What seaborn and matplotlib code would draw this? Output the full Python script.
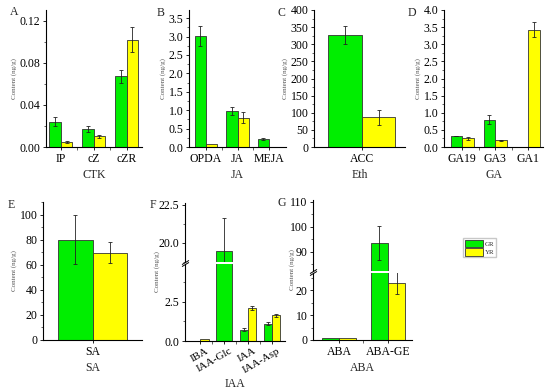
import numpy as np
import pandas as pd
import matplotlib
matplotlib.use('Agg')
import matplotlib.pyplot as plt
from matplotlib.patches import Patch
from matplotlib.transforms import ScaledTranslation
from matplotlib.ticker import MultipleLocator, FormatStrFormatter
import seaborn as sns

nan = np.nan

# hormone contents (ng/g), GR vs YR
ctk_cats = ['IP', 'cZ', 'cZR']
ctk_gr = [0.024, 0.017, 0.067]
ctk_gr_err = [0.004, 0.003, 0.006]
ctk_yr = [0.005, 0.010, 0.102]
ctk_yr_err = [0.001, 0.0015, 0.012]

ja_cats = ['OPDA', 'JA', 'MEJA']
ja_gr = [3.02, 0.97, 0.22]
ja_gr_err = [0.27, 0.11, 0.02]
ja_yr = [0.07, 0.80, nan]
ja_yr_err = [0.0, 0.16, nan]

eth_cats = ['ACC']
eth_gr = [327]
eth_gr_err = [27]
eth_yr = [87]
eth_yr_err = [22]

ga_cats = ['GA19', 'GA3', 'GA1']
ga_gr = [0.32, 0.80, nan]
ga_gr_err = [0.01, 0.13, nan]
ga_yr = [0.25, 0.19, 3.43]
ga_yr_err = [0.04, 0.02, 0.23]

sa_cats = ['SA']
sa_gr = [80]
sa_gr_err = [19.5]
sa_yr = [69.5]
sa_yr_err = [8.5]

iaa_cats = ['IBA', 'IAA-Glc', 'IAA', 'IAA-Asp']
iaa_gr = [nan, 19.45, 0.73, 1.11]
iaa_gr_err = [nan, 2.2, 0.08, 0.08]
iaa_yr = [0.1, nan, 2.08, 1.63]
iaa_yr_err = [0.0, nan, 0.12, 0.12]

aba_cats = ['ABA', 'ABA-GE']
aba_gr = [0.8, 93.5]
aba_gr_err = [0.0, 6.8]
aba_yr = [0.7, 23.0]
aba_yr_err = [0.0, 4.3]

groups = ['GR', 'YR']
pal = {'GR': '#00ee00', 'YR': '#ffff00'}
edge = '#333333'

sns.set_style('ticks')
plt.rcParams['font.family'] = ['Liberation Serif', 'DejaVu Serif']
plt.rcParams['axes.linewidth'] = 0.8
FS = 8.5

W, H = 550, 392
fig = plt.figure(figsize=(W / 100, H / 100), dpi=100)


def px_axes(x0, x1, y0, y1):
    # rectangle given in picture pixels (top-left origin)
    return fig.add_axes([x0 / W, 1 - y1 / H, (x1 - x0) / W, (y1 - y0) / H])


def draw_bars(ax, cats, gr, gr_err, yr, yr_err, wide=None):
    n = len(cats)
    df = pd.DataFrame({'cat': cats * 2, 'group': ['GR'] * n + ['YR'] * n,
                       'val': gr + yr, 'err': gr_err + yr_err})
    sns.barplot(data=df.dropna(subset=['val']), x='cat', y='val', hue='group',
                order=cats, hue_order=groups, palette=pal, width=0.7,
                saturation=1, edgecolor=edge, linewidth=0.6, errorbar=None,
                legend=False, dodge=True, ax=ax)
    errs = {'GR': gr_err, 'YR': yr_err}
    for cont, lev in zip(ax.containers, groups):
        for bar in cont:
            i = int(round(bar.get_x() + bar.get_width() / 2))
            if wide is not None and cats[i] in wide and lev == 'GR':
                bar.set_width(bar.get_width() * 2)
            e = errs[lev][i]
            if e and not np.isnan(e):
                ax.errorbar(bar.get_x() + bar.get_width() / 2, bar.get_height(),
                            yerr=e, fmt='none', ecolor='#222222',
                            elinewidth=0.6, capsize=1.6, capthick=0.6)
    ax.set_xticks(range(n))
    ax.set_xticks(np.arange(n - 1) + 0.5, minor=True)
    ax.set_xlabel('')
    ax.set_ylabel('')


def style(ax, major, minor, fmt):
    sns.despine(ax=ax)
    ax.yaxis.set_major_locator(MultipleLocator(major))
    ax.yaxis.set_minor_locator(MultipleLocator(minor))
    ax.yaxis.set_major_formatter(FormatStrFormatter(fmt))
    ax.tick_params(which='major', direction='out', length=2.5, width=0.6,
                   labelsize=FS, pad=1.5, colors='black')
    ax.tick_params(which='minor', direction='out', length=1.5, width=0.5)
    ax.tick_params(axis='x', which='minor', length=2)
    for s in ax.spines.values():
        s.set_color('black')


def simple_panel(box, cats, gr, gr_err, yr, yr_err, xlim, ylim, major, minor,
                 fmt, group_label):
    ax = px_axes(*box)
    draw_bars(ax, cats, gr, gr_err, yr, yr_err)
    ax.set_xlim(*xlim)
    ax.set_ylim(*ylim)
    style(ax, major, minor, fmt)
    ax.set_xticklabels(cats)
    ax.set_xlabel(group_label, fontsize=FS, labelpad=3.5)
    ax.set_ylabel('Content (ng/g)', fontsize=5, color='#555555', labelpad=2)
    return ax


def break_marks(ax_top, ax_bot):
    kw = dict(marker=[(-1, -0.6), (1, 0.6)], markersize=5, linestyle='none',
              color='black', mew=0.7, clip_on=False)
    ax_top.plot([0], [0], transform=ax_top.transAxes, **kw)
    ax_bot.plot([0], [1], transform=ax_bot.transAxes, **kw)


def broken_panel(x0, x1, ytop, ybreak, ybot, cats, gr, gr_err, yr, yr_err,
                 xlim, top_lim, bot_lim, top_major, top_minor, bot_major,
                 bot_minor, fmt, lab_x, wide=None):
    ax_t = px_axes(x0, x1, ytop, ybreak - 1)
    ax_b = px_axes(x0, x1, ybreak + 1, ybot)
    for ax, lim in ((ax_t, top_lim), (ax_b, bot_lim)):
        draw_bars(ax, cats, gr, gr_err, yr, yr_err, wide=wide)
        ax.set_xlim(*xlim)
        ax.set_ylim(*lim)
    style(ax_t, top_major, top_minor, fmt)
    style(ax_b, bot_major, bot_minor, fmt)
    ax_t.spines['bottom'].set_visible(False)
    ax_t.tick_params(axis='x', which='both', bottom=False, labelbottom=False)
    ax_b.set_xticklabels(cats)
    break_marks(ax_t, ax_b)
    fig.text(lab_x / W, 1 - (ytop + ybot) / 2 / H, 'Content (ng/g)',
             fontsize=5, color='#555555', rotation=90, ha='center', va='center')
    return ax_t, ax_b


# top row
simple_panel((46, 142, 10, 147), ctk_cats, ctk_gr, ctk_gr_err, ctk_yr,
             ctk_yr_err, (-0.45, 2.47), (0, 0.13), 0.04, 0.02, '%.2f', 'CTK')
simple_panel((189, 286, 10, 147), ja_cats, ja_gr, ja_gr_err, ja_yr,
             ja_yr_err, (-0.54, 2.54), (0, 3.72), 0.5, 0.25, '%.1f', 'JA')
simple_panel((314, 405, 10, 147), eth_cats, eth_gr, eth_gr_err, eth_yr,
             eth_yr_err, (-0.5, 0.45), (0, 400), 50, 25, '%d', 'Eth')
simple_panel((444, 543, 10, 147), ga_cats, ga_gr, ga_gr_err, ga_yr,
             ga_yr_err, (-0.55, 2.45), (0, 4.0), 0.5, 0.25, '%.1f', 'GA')

# bottom row
simple_panel((43, 142, 202, 340), sa_cats, sa_gr, sa_gr_err, sa_yr,
             sa_yr_err, (-0.5, 0.5), (0, 110), 20, 10, '%d', 'SA')

ax_ft, ax_fb = broken_panel(185, 285, 203, 263, 341, iaa_cats, iaa_gr,
                            iaa_gr_err, iaa_yr, iaa_yr_err, (-0.63, 3.54),
                            (18.75, 22.6), (0, 4.9), 2.5, 1.25, 2.5, 1.25,
                            '%.1f', 157, wide=['IAA-Glc'])
shift = ScaledTranslation(0.05, 0, fig.dpi_scale_trans)
for lab in ax_fb.get_xticklabels():
    lab.set_rotation(30)
    lab.set_ha('right')
    lab.set_rotation_mode('anchor')
    lab.set_fontsize(8)
    lab.set_transform(lab.get_transform() + shift)
fig.text(235 / W, 1 - 384 / H, 'IAA', fontsize=FS, ha='center', va='center')

ax_gt, ax_gb = broken_panel(313, 412, 200, 272, 340, aba_cats, aba_gr,
                            aba_gr_err, aba_yr, aba_yr_err, (-0.53, 1.49),
                            (82.4, 110.7), (0, 27), 10, 5, 10, 5, '%d', 292)
ax_gb.set_xlabel('ABA', fontsize=FS, labelpad=3.5)

# panel letters
for letter, x, y in [('A', 10, 12), ('B', 157, 13), ('C', 278, 13),
                     ('D', 408, 13), ('E', 8, 205), ('F', 150, 205),
                     ('G', 277, 203)]:
    fig.text(x / W, 1 - y / H, letter, fontsize=FS, ha='left', va='center')

handles = [Patch(facecolor=pal[g], edgecolor=edge, linewidth=0.6) for g in groups]
fig.legend(handles, groups, loc='upper left', bbox_to_anchor=(463 / W, 1 - 238 / H),
           fontsize=5, frameon=True, fancybox=False, edgecolor='#bbbbbb',
           handlelength=2.6, handleheight=1.3, borderpad=0.25, labelspacing=0.1,
           handletextpad=0.3, borderaxespad=0)

fig.savefig('out.png', dpi=100)
